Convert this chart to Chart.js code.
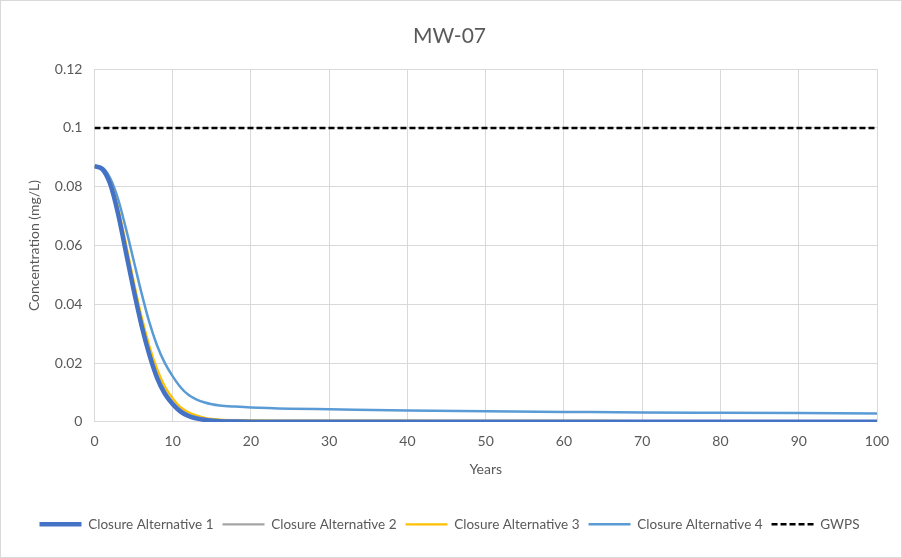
<!DOCTYPE html>
<html>
<head>
<meta charset="utf-8">
<script src="https://cdn.jsdelivr.net/npm/chart.js@4"></script>
<style>
  html, body { margin: 0; padding: 0; background: #fff; }
  #wrap { width: 900px; height: 556px; border: 1px solid #d9d9d9; }
</style>
</head>
<body>
<div id="wrap"><canvas id="chart" width="900" height="556"></canvas></div>
<script>
// years and concentrations (mg/L)
const years = [0, 1, 2, 3, 4, 5, 6, 7, 8, 9, 10, 11, 12, 13, 14, 15, 16, 18, 20, 25, 30, 40, 50, 60, 70, 80, 90, 100];
const alt1 = [0.087, 0.086, 0.081, 0.071, 0.058, 0.045, 0.033, 0.023, 0.015, 0.0095, 0.006, 0.0035, 0.002, 0.0012, 0.0007, 0.0004, 0.0002, 0.0001, 0.00005, 0.00003, 0.00002, 0.00002, 0.00002, 0.00002, 0.00002, 0.00002, 0.00002, 0.00002];
const alt2 = [0.087, 0.086, 0.0815, 0.072, 0.059, 0.046, 0.034, 0.024, 0.016, 0.0105, 0.0068, 0.0042, 0.0026, 0.0017, 0.0011, 0.0008, 0.0006, 0.0004, 0.0003, 0.0002, 0.0002, 0.0002, 0.0002, 0.0002, 0.0002, 0.0002, 0.0002, 0.0002];
const alt3 = [0.087, 0.086, 0.082, 0.073, 0.061, 0.048, 0.036, 0.026, 0.018, 0.012, 0.008, 0.005, 0.0033, 0.0022, 0.0015, 0.001, 0.0008, 0.0006, 0.0005, 0.00045, 0.0004, 0.0004, 0.00035, 0.00035, 0.0003, 0.0003, 0.0003, 0.0003];
const alt4 = [0.087, 0.0865, 0.083, 0.076, 0.066, 0.055, 0.044, 0.034, 0.026, 0.020, 0.0155, 0.0118, 0.0092, 0.0077, 0.0067, 0.006, 0.0056, 0.0052, 0.0049, 0.0045, 0.0043, 0.0039, 0.0036, 0.0034, 0.0032, 0.0031, 0.0030, 0.0029];
const gwpsYears = [0, 100];
const gwps = [0.1, 0.1];

const textColor = '#595959';
const gridColor = '#d9d9d9';
const font = 'Lato, "Open Sans", sans-serif';

function pts(xs, ys) {
    return xs.map((x, i) => ({ x, y: ys[i] }));
}

function lineSet(label, data, color, width, dash) {
    return {
        label,
        data,
        borderColor: color,
        backgroundColor: color,
        borderWidth: width,
        borderDash: dash || [],
        pointRadius: 0,
        pointStyle: 'line',
        cubicInterpolationMode: 'monotone',
        fill: false,
    };
}

const ctx = document.getElementById('chart').getContext('2d');
new Chart(ctx, {
    type: 'line',
    data: {
        datasets: [
            lineSet('Closure Alternative 1', pts(years, alt1), '#4472c4', 4.5),
            lineSet('Closure Alternative 2', pts(years, alt2), '#a5a5a5', 2.25),
            lineSet('Closure Alternative 3', pts(years, alt3), '#ffc000', 2.25),
            lineSet('Closure Alternative 4', pts(years, alt4), '#5b9bd5', 2.5),
            lineSet('GWPS', pts(gwpsYears, gwps), '#000000', 2.5, [6, 3]),
        ],
    },
    options: {
        responsive: false,
        animation: false,
        layout: { padding: { left: 21, right: 24, top: 10, bottom: 16 } },
        plugins: {
            title: {
                display: true,
                text: 'MW-07',
                color: textColor,
                font: { family: font, size: 21, weight: 'normal' },
                padding: { top: 13, bottom: 20 },
            },
            legend: {
                position: 'bottom',
                labels: {
                    usePointStyle: true,
                    pointStyleWidth: 42,
                    color: textColor,
                    font: { family: font, size: 13.5 },
                    boxHeight: 8,
                    padding: 9,
                    // keep each dataset's dash pattern in the legend
                    generateLabels: chart => Chart.defaults.plugins.legend.labels.generateLabels(chart).map(item => {
                        const ds = chart.data.datasets[item.datasetIndex];
                        item.lineDash = ds.borderDash;
                        item.lineWidth = ds.borderWidth;
                        return item;
                    }),
                },
            },
            tooltip: { enabled: false },
        },
        scales: {
            x: {
                type: 'linear',
                min: 0,
                max: 100,
                ticks: { stepSize: 10, color: textColor, font: { family: font, size: 14 }, padding: 11 },
                grid: { color: gridColor, drawTicks: false },
                border: { color: gridColor },
                title: { display: true, text: 'Years', color: textColor, font: { family: font, size: 14 }, padding: { top: 0, bottom: 31 } },
            },
            y: {
                min: 0,
                max: 0.12,
                ticks: {
                    stepSize: 0.02,
                    color: textColor,
                    font: { family: font, size: 14 },
                    padding: 12,
                    callback: v => String(Number(v.toFixed(2))),
                },
                grid: { color: gridColor, drawTicks: false },
                border: { color: gridColor },
                title: { display: true, text: 'Concentration (mg/L)', color: textColor, font: { family: font, size: 14 }, padding: { top: 4, bottom: 0 } },
            },
        },
    },
});
</script>
</body>
</html>
